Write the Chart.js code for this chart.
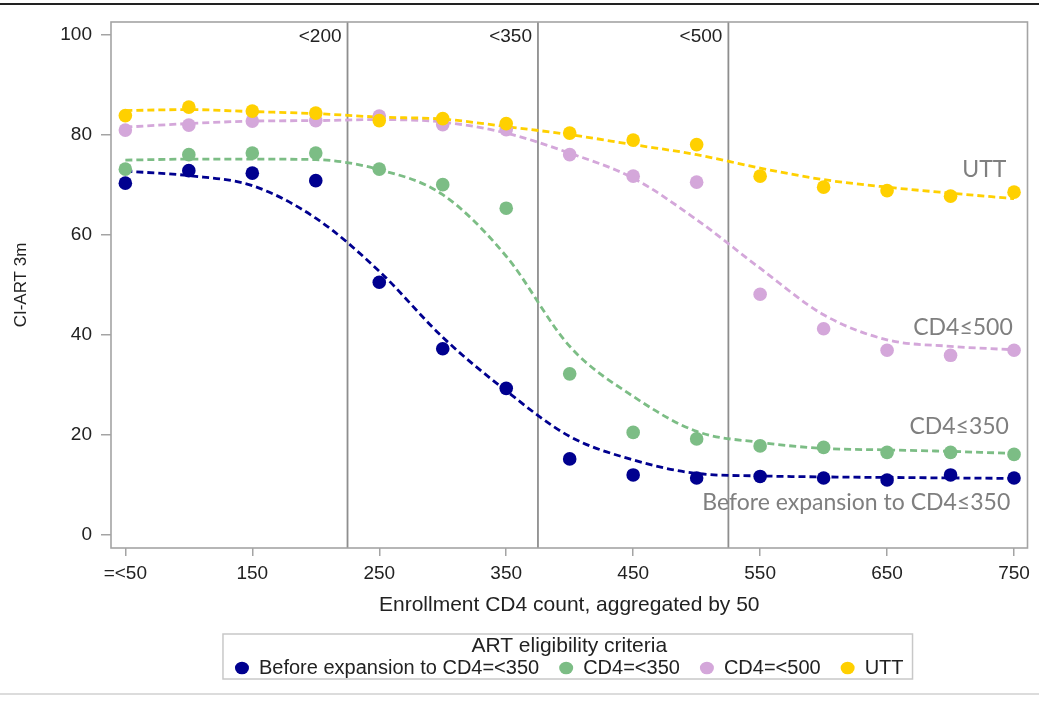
<!DOCTYPE html>
<html>
<head>
<meta charset="utf-8">
<script src="https://cdn.jsdelivr.net/npm/chart.js@4.4.1/dist/chart.umd.min.js"></script>
<style>
  html, body { margin: 0; padding: 0; background: #fff; }
  #wrap { width: 1039px; height: 701px; }
</style>
</head>
<body>
<div id="wrap"><canvas id="chart" width="1039" height="701"></canvas></div>
<script>
// enrollment CD4 bins (x) and the axis ticks
const cd4Bins = [50, 100, 150, 200, 250, 300, 350, 400, 450, 500, 550, 600, 650, 700, 750];
const xTicks = [50, 150, 250, 350, 450, 550, 650, 750];
const xTickLabels = ['=<50', '150', '250', '350', '450', '550', '650', '750'];
const yTicks = [0, 20, 40, 60, 80, 100];

const seriesNames = ['Before expansion to CD4=<350', 'CD4=<350', 'CD4=<500', 'UTT'];
const seriesColors = ['#00008f', '#7cbd85', '#d4a7da', '#ffd000'];

// observed proportions
const beforeObs = [70.3, 72.8, 72.3, 70.8, 50.5, 37.2, 29.3, 15.2, 12.0, 11.4, 11.7, 11.4, 11.0, 12.0, 11.4];
const cd4350Obs = [73.1, 76.0, 76.3, 76.3, 73.1, 70.0, 65.3, 32.2, 20.5, 19.2, 17.8, 17.5, 16.5, 16.5, 16.1];
const cd4500Obs = [80.9, 81.9, 82.7, 82.8, 83.7, 82.0, 81.0, 76.0, 71.7, 70.5, 48.1, 41.2, 36.9, 35.9, 36.9];
const uttObs = [83.8, 85.5, 84.7, 84.3, 82.8, 83.2, 82.2, 80.3, 78.9, 78.0, 71.7, 69.5, 68.8, 67.7, 68.5];

// smoothed fits (dashed)
const beforeFit = [72.7, 71.8, 69.8, 63.3, 52.7, 39.5, 28.8, 19.7, 15.0, 12.3, 11.8, 11.6, 11.5, 11.4, 11.3];
const cd4350Fit = [74.9, 75.1, 75.1, 75.0, 73.0, 68.0, 55.7, 37.7, 27.7, 20.7, 18.5, 17.3, 17.0, 16.7, 16.3];
const cd4500Fit = [81.5, 82.2, 82.7, 82.8, 83.0, 82.5, 80.3, 76.3, 71.3, 63.0, 53.3, 44.0, 39.0, 37.7, 37.0];
const uttFit = [84.8, 85.0, 84.6, 84.2, 83.5, 83.1, 81.6, 80.0, 78.0, 76.0, 73.3, 71.0, 69.5, 68.3, 67.2];

// eligibility thresholds
const refX = [225, 375, 525];
const refLabels = ['<200', '<350', '<500'];

// curve labels inside the plot
const curveLabels = ['UTT', 'CD4≤500', 'CD4≤350', 'Before expansion to CD4≤350'];
const curveLabelX = [744, 749, 746, 747];
const curveLabelY = [73, 41.4, 21.6, 6.4];

const FONT = '"Liberation Sans", Arial, sans-serif';

function pts(ys) {
  return cd4Bins.map((x, i) => ({ x: x, y: ys[i] }));
}

const obsData = [beforeObs, cd4350Obs, cd4500Obs, uttObs];
const fitData = [beforeFit, cd4350Fit, cd4500Fit, uttFit];

const datasets = [];
obsData.forEach((ys, i) => {
  datasets.push({
    label: seriesNames[i],
    data: pts(ys),
    showLine: false,
    pointRadius: 6.8,
    pointHoverRadius: 6.8,
    pointBorderWidth: 0,
    pointBackgroundColor: seriesColors[i],
    backgroundColor: seriesColors[i],
    borderColor: seriesColors[i],
    order: 4 - i
  });
});
fitData.forEach((ys, i) => {
  datasets.push({
    label: seriesNames[i] + ' fit',
    data: pts(ys),
    showLine: true,
    pointRadius: 0,
    borderColor: seriesColors[i],
    borderWidth: 2.8,
    borderDash: [7, 4],
    cubicInterpolationMode: 'monotone',
    fill: false,
    order: 8 - i
  });
});

const decorations = {
  id: 'decorations',
  beforeDraw(chart) {
    const ctx = chart.ctx;
    ctx.save();
    ctx.fillStyle = '#fff';
    ctx.fillRect(0, 0, chart.width, chart.height);
    ctx.fillStyle = '#222';
    ctx.fillRect(0, 3, chart.width, 2);
    ctx.fillStyle = '#dcdcdc';
    ctx.fillRect(0, 693, chart.width, 2);
    ctx.restore();
  },
  beforeDatasetsDraw(chart) {
    const { ctx, chartArea: a, scales: { x } } = chart;
    ctx.save();
    ctx.strokeStyle = '#8e8e8e';
    ctx.lineWidth = 1.8;
    ctx.font = '19px ' + FONT;
    ctx.fillStyle = '#222';
    ctx.textAlign = 'right';
    ctx.textBaseline = 'middle';
    refX.forEach((v, i) => {
      const px = x.getPixelForValue(v);
      ctx.beginPath();
      ctx.moveTo(px, a.top);
      ctx.lineTo(px, a.bottom);
      ctx.stroke();
      ctx.fillText(refLabels[i], px - 6, a.top + 15);
    });
    ctx.restore();
  },
  afterDatasetsDraw(chart) {
    const { ctx, chartArea: a, scales: { x, y } } = chart;
    ctx.save();
    ctx.font = '23px Lato, "Open Sans", sans-serif';
    ctx.fillStyle = '#7f7f7f';
    ctx.textAlign = 'right';
    ctx.textBaseline = 'middle';
    curveLabels.forEach((t, i) => {
      ctx.fillText(t, x.getPixelForValue(curveLabelX[i]), y.getPixelForValue(curveLabelY[i]));
    });
    // plot frame
    ctx.strokeStyle = '#a4a4a4';
    ctx.lineWidth = 1.6;
    ctx.strokeRect(a.left, a.top, a.right - a.left, a.bottom - a.top);
    ctx.restore();
  },
  afterDraw(chart) {
    // border round the legend
    const hb = chart.legend.legendHitBoxes;
    if (!hb || !hb.length) return;
    const last = hb[hb.length - 1];
    const ctx = chart.ctx;
    const left = hb[0].left - 12;
    const right = last.left + last.width + 9;
    const top = hb[0].top - 24;
    const bottom = hb[0].top + hb[0].height + 1;
    ctx.save();
    ctx.strokeStyle = '#c8c8c8';
    ctx.lineWidth = 1.5;
    ctx.strokeRect(left, top, right - left, bottom - top);
    ctx.restore();
  }
};

new Chart(document.getElementById('chart'), {
  type: 'scatter',
  data: { datasets: datasets },
  options: {
    responsive: false,
    animation: false,
    devicePixelRatio: 1,
    layout: { padding: { top: 22, right: 11.5, left: 0, bottom: 13 } },
    plugins: {
      tooltip: { enabled: false },
      legend: {
        position: 'bottom',
        fullSize: false,
        labels: {
          filter: item => item.datasetIndex < 4,
          sort: (a, b) => a.datasetIndex - b.datasetIndex,
          usePointStyle: true,
          pointStyle: 'circle',
          boxHeight: 9,
          pointStyleWidth: 14,
          padding: 20,
          color: '#222',
          font: { family: FONT, size: 20 }
        },
        title: {
          display: true,
          text: 'ART eligibility criteria',
          color: '#222',
          font: { family: FONT, size: 21 },
          padding: { top: 6, bottom: -22.6 }
        }
      }
    },
    scales: {
      x: {
        type: 'linear',
        min: 38.7,
        max: 760.6,
        afterBuildTicks: s => { s.ticks = xTicks.map(v => ({ value: v })); },
        afterFit: s => { s.height = 81.4; },
        ticks: {
          autoSkip: false,
          maxRotation: 0,
          padding: 6,
          color: '#222',
          font: { family: FONT, size: 19 },
          callback: (v, i) => xTickLabels[i]
        },
        grid: { drawOnChartArea: false, color: '#a4a4a4', tickLength: 8, lineWidth: 1.5 },
        border: { display: false },
        title: {
          display: true,
          text: 'Enrollment CD4 count, aggregated by 50',
          color: '#222',
          font: { family: FONT, size: 21 },
          padding: { top: 0, bottom: 12 }
        }
      },
      y: {
        type: 'linear',
        min: -2.6,
        max: 102.5,
        afterBuildTicks: s => { s.ticks = yTicks.map(v => ({ value: v })); },
        afterFit: s => { s.width = 111; },
        ticks: {
          padding: 9,
          color: '#222',
          font: { family: FONT, size: 19 }
        },
        grid: { drawOnChartArea: false, color: '#a4a4a4', tickLength: 10, lineWidth: 1.5 },
        border: { display: false },
        title: {
          display: true,
          text: 'CI-ART 3m',
          color: '#222',
          font: { family: FONT, size: 17 },
          padding: { top: 11, bottom: 0 }
        }
      }
    }
  },
  plugins: [decorations]
});
</script>
</body>
</html>
